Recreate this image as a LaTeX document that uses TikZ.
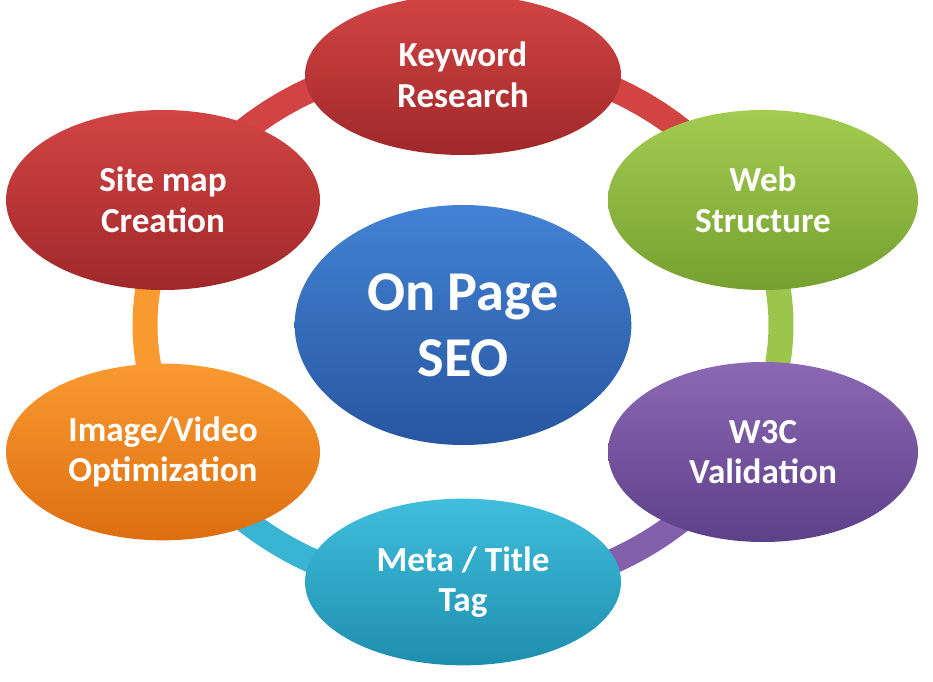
\documentclass[tikz,border=0pt]{standalone}
\usepackage{fontspec}
\setmainfont{Carlito}
\usetikzlibrary{shapes.geometric}
\definecolor{rT}{HTML}{D24444}\definecolor{rB}{HTML}{A0282A}
\definecolor{gT}{HTML}{A2CC50}\definecolor{gB}{HTML}{76A030}
\definecolor{pT}{HTML}{8C68B4}\definecolor{pB}{HTML}{5C4088}
\definecolor{tT}{HTML}{40BEDC}\definecolor{tB}{HTML}{1E8EAE}
\definecolor{oT}{HTML}{F99A30}\definecolor{oB}{HTML}{DE6E10}
\definecolor{bT}{HTML}{4282D4}\definecolor{bB}{HTML}{2856A0}
\begin{document}
\begin{tikzpicture}[x=0.03cm,y=-0.03cm,
  blob/.style={ellipse,inner sep=0pt,text=white,align=center,font=\fontsize{30}{34.5}\selectfont\bfseries},
  band/.style={line width=0.75cm}]
\useasboundingbox (0,0) rectangle (933,682);
\def\ring#1#2#3{\draw[band,#3] plot[domain=#1:#2,samples=40,variable=\t] ({463+318*cos(\t)},{325+268*sin(\t)});}
\ring{154}{206}{oT}
\ring{206}{334}{rT}
\ring{334}{386}{gT!85!gB}
\ring{26}{90}{pT!80!pB}
\ring{90}{154}{tT!80!tB}
\node[blob,top color=rT,bottom color=rB,minimum width=9.48cm,minimum height=4.8cm] (kw) at (463,75) {Keyword\\Research};
\node[blob,top color=gT,bottom color=gB,minimum width=9.3cm,minimum height=5.4cm] (web) at (763,200) {Web\\Structure};
\node[blob,top color=pT,bottom color=pB,minimum width=9.3cm,minimum height=5.4cm] (w3c) at (763,452) {W3C\\Validation};
\node[blob,top color=tT,bottom color=tB,minimum width=9.48cm,minimum height=5.0cm] (meta) at (463,582) {Meta / Title\\Tag};
\node[blob,top color=oT,bottom color=oB,minimum width=9.42cm,minimum height=5.3cm] (img) at (163,452) {Image/Video\\Optimization};
\node[blob,top color=rT,bottom color=rB,minimum width=9.42cm,minimum height=5.4cm] (site) at (163,200) {Site map\\Creation};
\node[blob,top color=bT,bottom color=bB,minimum width=10.1cm,minimum height=7.2cm,font=\fontsize{48}{56}\selectfont\bfseries] (seo) at (463,325) {On Page\\SEO};
\end{tikzpicture}
\end{document}
